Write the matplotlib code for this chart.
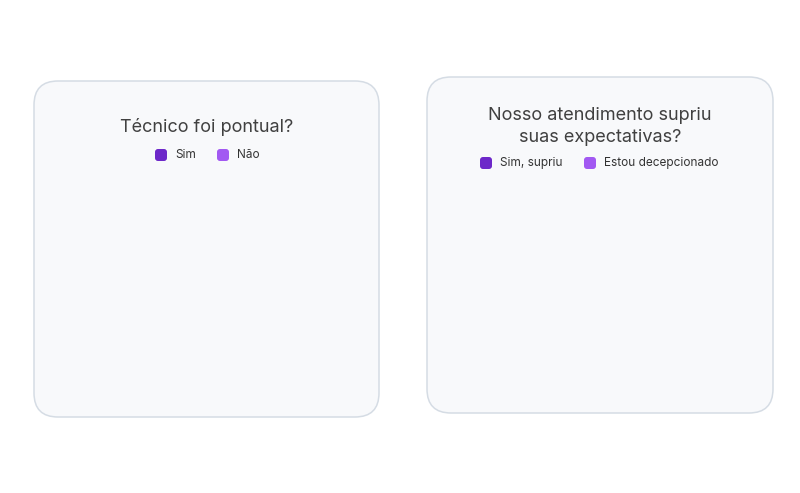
import matplotlib.pyplot as plt
from matplotlib.patches import FancyBboxPatch

# Survey answers (charts are empty in the source: no responses yet)
titles = ['Técnico foi pontual?', 'Nosso atendimento supriu\nsuas expectativas?']
labels_pontual = ['Sim', 'Não']
labels_expect = ['Sim, supriu', 'Estou decepcionado']
values_pontual = [0, 0]
values_expect = [0, 0]
colors = ['#6d28c9', '#a259f2']

plt.rcParams['font.family'] = ['Inter', 'DejaVu Sans']

fig = plt.figure(figsize=(8, 4.93), dpi=100)
bg = fig.add_axes([0, 0, 1, 1])
bg.set_xlim(0, 800)
bg.set_ylim(493, 0)
bg.set_axis_off()

# card layout: (x0, y0, x1, y1, title_y, legend_y, legend_x)
cards = [
    (34, 81, 379, 417, 127, 155, [155, 217]),
    (427, 77, 773, 413, 126.5, 163, [480, 584]),
]
all_labels = [labels_pontual, labels_expect]
all_values = [values_pontual, values_expect]

for (x0, y0, x1, y1, ty, ly, lx), title, labels, values in zip(cards, titles, all_labels, all_values):
    r = 24
    card = FancyBboxPatch((x0 + r, y0 + r), (x1 - x0) - 2 * r, (y1 - y0) - 2 * r,
                          boxstyle='round,pad=%d' % r, fc='#f8f9fb', ec='#d5dce4', lw=1.1)
    bg.add_patch(card)
    bg.text((x0 + x1) / 2, ty, title, ha='center', va='center', fontsize=13,
            color='#404040', linespacing=1.35)
    for x, lab, c in zip(lx, labels, colors):
        bg.add_patch(FancyBboxPatch((x + 3, ly - 3), 6, 6, boxstyle='round,pad=3',
                                    fc=c, ec='none'))
        bg.text(x + 20, ly, lab, ha='left', va='center', fontsize=8.5, color='#333333')

    # pie area (nothing drawn when there are no answers)
    w, h = fig.get_size_inches() * fig.dpi
    pax = fig.add_axes([(x0 + 40) / w, 1 - (y1 - 20) / h, (x1 - x0 - 80) / w, (y1 - ly - 50) / h])
    pax.set_axis_off()
    if sum(values) > 0:
        pax.pie(values, colors=colors, startangle=90)

fig.savefig('out.png', dpi=100, facecolor='white')
